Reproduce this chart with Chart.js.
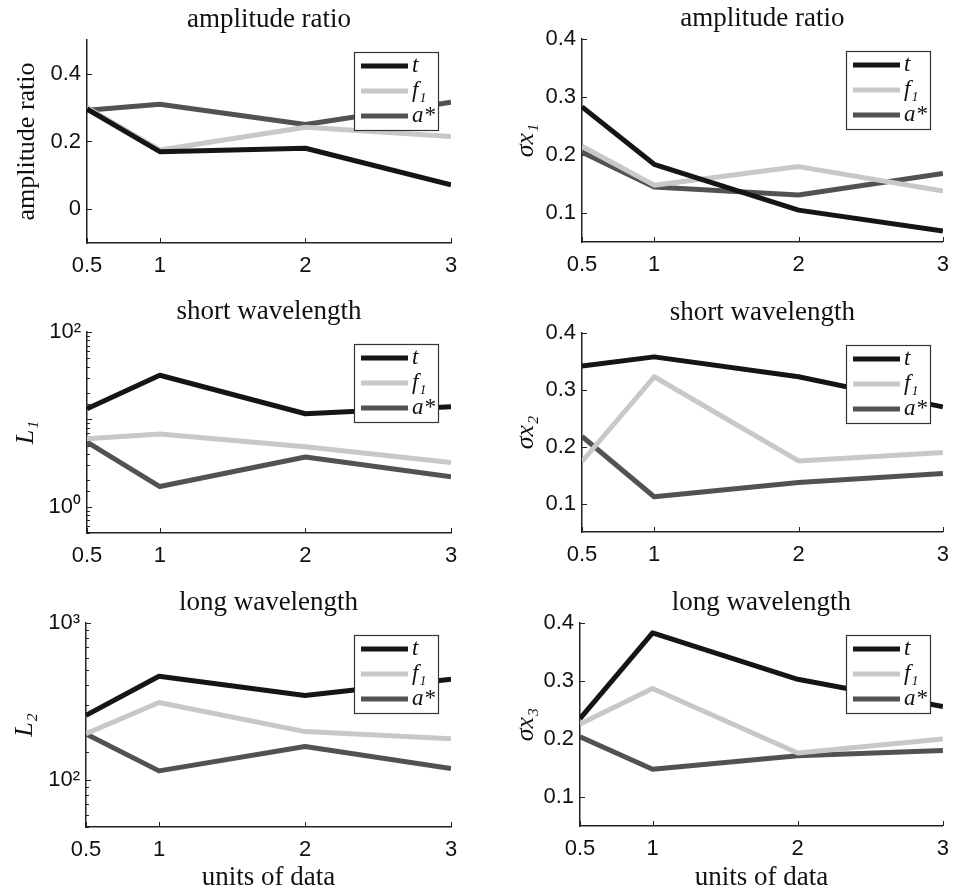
<!DOCTYPE html>
<html>
<head>
<meta charset="utf-8">
<script src="https://cdn.jsdelivr.net/npm/chart.js@4.4.0/dist/chart.umd.min.js"></script>
<style>
  html, body { margin: 0; padding: 0; background: #fff; }
  #grid { position: relative; width: 959px; height: 894px; }
  #grid canvas { position: absolute; }
</style>
</head>
<body>
<div id="grid">
  <canvas id="ampL" width="479" height="290" style="left:0;top:0"></canvas>
  <canvas id="ampR" width="480" height="290" style="left:479px;top:0"></canvas>
  <canvas id="shortL" width="479" height="290" style="left:0;top:290px"></canvas>
  <canvas id="shortR" width="480" height="290" style="left:479px;top:290px"></canvas>
  <canvas id="longL" width="479" height="314" style="left:0;top:580px"></canvas>
  <canvas id="longR" width="480" height="314" style="left:479px;top:580px"></canvas>
</div>
<script>
// x positions shared by every panel
const units = [0.5, 1, 2, 3];
const unitTicks = [0.5, 1, 2, 3];
const seriesNames = ['t', 'f\u2081', 'a*'];

// amplitude ratio
const ampT = [0.296, 0.17, 0.18, 0.072];
const ampF1 = [0.30, 0.175, 0.242, 0.215];
const ampA = [0.292, 0.31, 0.25, 0.316];
const ampTicks = [0, 0.2, 0.4];

const sx1T = [0.283, 0.184, 0.105, 0.069];
const sx1F1 = [0.215, 0.148, 0.18, 0.138];
const sx1A = [0.205, 0.145, 0.131, 0.168];

// short wavelength
const l1T = [13.2, 32, 11.6, 13.9];
const l1F1 = [6.0, 6.8, 4.85, 3.2];
const l1A = [5.5, 1.7, 3.7, 2.2];
const l1Labels = [1, 100];

const sx2T = [0.342, 0.358, 0.323, 0.27];
const sx2F1 = [0.174, 0.323, 0.175, 0.19];
const sx2A = [0.218, 0.112, 0.137, 0.153];

// long wavelength
const l2T = [258, 457, 345, 438];
const l2F1 = [197, 311, 203, 183];
const l2A = [196, 114, 163, 118];
const l2Labels = [100, 1000];

const sx3T = [0.235, 0.383, 0.303, 0.256];
const sx3F1 = [0.226, 0.287, 0.176, 0.2];
const sx3A = [0.204, 0.148, 0.171, 0.18];

const sigmaTicks = [0.1, 0.2, 0.3, 0.4];

const lineColors = ['#151515', '#c8c8c8', '#525252'];
const axisColor = '#222';
const sansFont = 'Liberation Sans';
const serifFont = 'Liberation Serif';

const sup = { '0': '\u2070', '1': '\u00b9', '2': '\u00b2', '3': '\u00b3' };
function powLabel(v) {
  const e = String(Math.round(Math.log10(v)));
  return '10' + e.split('').map(c => sup[c]).join('');
}
function isPow10(v) {
  const l = Math.log10(v);
  return Math.abs(l - Math.round(l)) < 1e-9;
}

function line(ctx, x1, y1, x2, y2) {
  ctx.beginPath();
  ctx.moveTo(x1, y1);
  ctx.lineTo(x2, y2);
  ctx.stroke();
}

// inward ticks, boxed legend and panel title
const panelDecor = {
  id: 'panelDecor',
  beforeDatasetsDraw(chart) {
    const ctx = chart.ctx, area = chart.chartArea;
    const xs = chart.scales.x, ys = chart.scales.y;
    ctx.save();
    ctx.strokeStyle = axisColor;
    ctx.lineWidth = 1;
    xs.ticks.forEach(t => {
      const px = Math.round(xs.getPixelForValue(t.value)) + 0.5;
      line(ctx, px, area.bottom, px, area.bottom - 5);
    });
    ys.ticks.forEach(t => {
      const py = Math.round(ys.getPixelForValue(t.value)) + 0.5;
      const len = ys.type === 'logarithmic' && !isPow10(t.value) ? 3 : 5;
      line(ctx, area.left, py, area.left + len, py);
    });
    ctx.restore();
  },
  afterDatasetsDraw(chart) {
    const ctx = chart.ctx, area = chart.chartArea;
    const w = 84, h = 78;
    const left = Math.round(area.right - 13 - w), top = Math.round(area.top + 12);
    ctx.save();
    ctx.fillStyle = '#fff';
    ctx.fillRect(left, top, w, h);
    ctx.strokeStyle = '#333';
    ctx.lineWidth = 1.2;
    ctx.strokeRect(left + 0.5, top + 0.5, w, h);
    chart.data.datasets.forEach((ds, i) => {
      const y = top + 14 + i * 25;
      ctx.strokeStyle = ds.borderColor;
      ctx.lineWidth = ds.borderWidth;
      line(ctx, left + 7, y, left + 54, y);
      ctx.fillStyle = '#111';
      ctx.font = 'italic 23px "' + serifFont + '"';
      ctx.textBaseline = 'middle';
      ctx.textAlign = 'left';
      ctx.fillText(ds.label, left + 58, y);
    });
    ctx.restore();
  },
  afterDraw(chart) {
    const ctx = chart.ctx, area = chart.chartArea;
    const title = chart.options.plugins.panelDecor.title;
    ctx.save();
    ctx.fillStyle = '#111';
    ctx.font = '27px "' + serifFont + '"';
    ctx.textAlign = 'center';
    ctx.textBaseline = 'middle';
    ctx.fillText(title, (area.left + area.right) / 2, area.top - 20);
    ctx.restore();
  }
};

function makePanel(id, p) {
  const canvas = document.getElementById(id);
  const W = canvas.width, H = canvas.height;
  const isLog = p.yType === 'logarithmic';
  new Chart(canvas, {
    type: 'line',
    data: {
      datasets: p.series.map((vals, i) => ({
        label: seriesNames[i],
        data: units.map((u, k) => ({ x: u, y: vals[k] })),
        borderColor: lineColors[i],
        borderWidth: 5,
        pointRadius: 0,
        tension: 0,
        borderJoinStyle: 'round',
        fill: false
      }))
    },
    options: {
      responsive: false,
      animation: false,
      layout: { padding: { left: 0, right: W - p.right, top: p.top, bottom: 0 } },
      plugins: {
        legend: { display: false },
        tooltip: { enabled: false },
        panelDecor: { title: p.title }
      },
      scales: {
        x: {
          type: 'linear',
          min: 0.5,
          max: 3,
          afterBuildTicks: s => { s.ticks = unitTicks.map(v => ({ value: v })); },
          afterFit: s => { s.height = H - p.bottom; },
          grid: { drawOnChartArea: false, drawTicks: false },
          border: { color: axisColor, width: 1.5 },
          ticks: {
            font: { family: sansFont, size: 22 },
            color: '#111',
            padding: 10,
            maxRotation: 0,
            autoSkip: false,
            callback: v => String(v)
          },
          title: {
            display: !!p.xTitle,
            text: p.xTitle || '',
            color: '#111',
            font: { family: serifFont, size: 27 },
            padding: { top: 0, bottom: 0 }
          }
        },
        y: {
          type: p.yType,
          min: p.min,
          max: p.max,
          afterBuildTicks: isLog ? undefined : s => { s.ticks = p.ticks.map(v => ({ value: v })); },
          afterFit: s => { s.width = p.left; },
          grid: { drawOnChartArea: false, drawTicks: false },
          border: { color: axisColor, width: 1.5 },
          ticks: {
            font: { family: sansFont, size: 22 },
            color: '#111',
            padding: 6,
            autoSkip: false,
            callback: isLog
              ? v => (p.labels.some(l => Math.abs(l - v) < 1e-9) ? powLabel(v) : '')
              : v => String(v)
          },
          title: {
            display: true,
            text: p.yTitle,
            color: '#111',
            font: { family: serifFont, size: 26, style: p.yItalic ? 'italic' : 'normal' },
            padding: { top: p.yTitlePad, bottom: 0 }
          }
        }
      }
    },
    plugins: [panelDecor]
  });
}

makePanel('ampL', {
  title: 'amplitude ratio', yTitle: 'amplitude ratio', yItalic: false, yTitlePad: 12,
  yType: 'linear', min: -0.1, max: 0.5, ticks: ampTicks,
  series: [ampT, ampF1, ampA], left: 87, right: 451, top: 40, bottom: 243
});
makePanel('ampR', {
  title: 'amplitude ratio', yTitle: '\u03c3x\u2081', yItalic: true, yTitlePad: 32,
  yType: 'linear', min: 0.05, max: 0.4, ticks: sigmaTicks,
  series: [sx1T, sx1F1, sx1A], left: 103, right: 471, top: 39, bottom: 242
});
makePanel('shortL', {
  title: 'short wavelength', yTitle: 'L\u2081', yItalic: true, yTitlePad: 11,
  yType: 'logarithmic', min: 0.5, max: 100, labels: l1Labels,
  series: [l1T, l1F1, l1A], left: 87, right: 451, top: 42, bottom: 243
});
makePanel('shortR', {
  title: 'short wavelength', yTitle: '\u03c3x\u2082', yItalic: true, yTitlePad: 32,
  yType: 'linear', min: 0.05, max: 0.4, ticks: sigmaTicks,
  series: [sx2T, sx2F1, sx2A], left: 103, right: 471, top: 43, bottom: 242
});
makePanel('longL', {
  title: 'long wavelength', yTitle: 'L\u2082', yItalic: true, yTitlePad: 10,
  yType: 'logarithmic', min: 50, max: 1000, labels: l2Labels, xTitle: 'units of data',
  series: [l2T, l2F1, l2A], left: 86, right: 451, top: 43, bottom: 247
});
makePanel('longR', {
  title: 'long wavelength', yTitle: '\u03c3x\u2083', yItalic: true, yTitlePad: 32,
  yType: 'linear', min: 0.05, max: 0.4, ticks: sigmaTicks, xTitle: 'units of data',
  series: [sx3T, sx3F1, sx3A], left: 101, right: 469, top: 43, bottom: 246
});
</script>
</body>
</html>
